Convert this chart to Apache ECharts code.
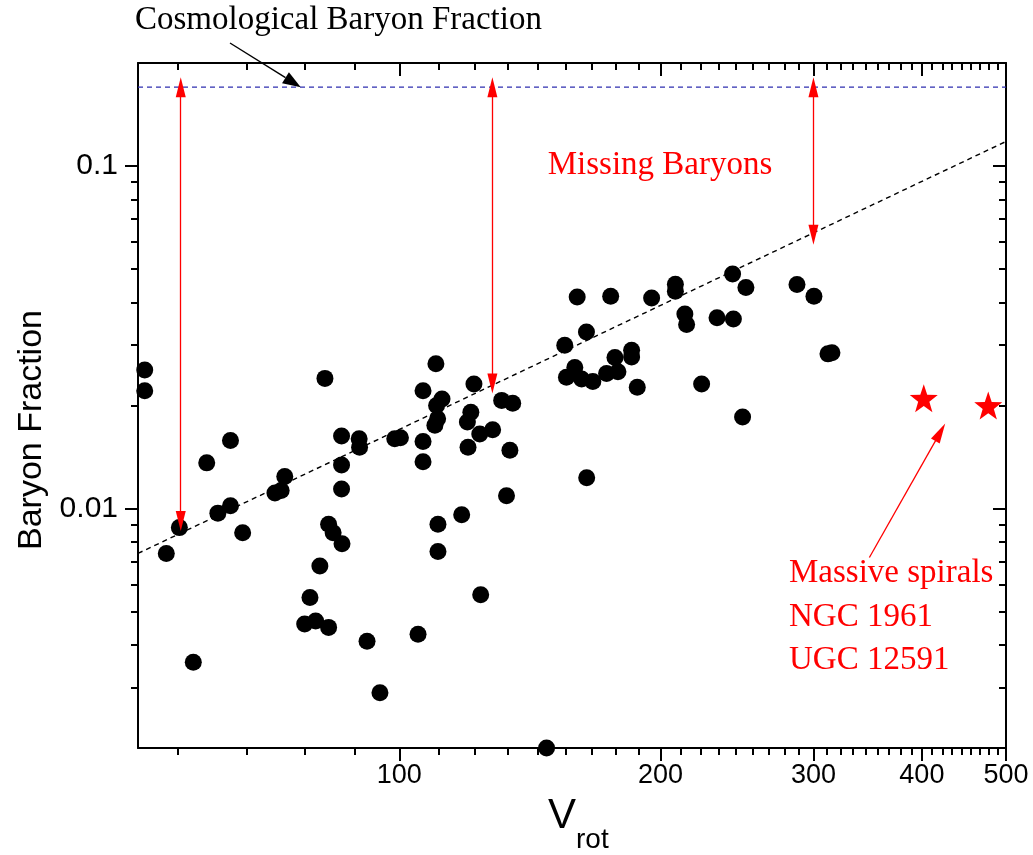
<!DOCTYPE html>
<html>
<head>
<meta charset="utf-8">
<script src="https://cdn.jsdelivr.net/npm/echarts@6/dist/echarts.min.js"></script>
<style>
  html, body { margin: 0; padding: 0; background: #ffffff; }
  #chart { width: 1033px; height: 855px; }
</style>
</head>
<body>
<div id="chart"></div>
<script>
// Rotation velocity (km/s) of each galaxy
const vrot = [
  50.9, 50.9, 55.8, 53.9, 57.9, 60.0, 63.9, 61.8, 63.9, 66.0,
  71.9, 73.1, 73.8, 82.1, 85.8, 89.9, 90.0, 85.8, 85.8, 82.9,
  83.9, 85.9, 81.0, 78.9, 77.8, 80.1, 82.9, 91.8, 95.0, 98.8,
  100.3, 105.1, 106.5, 106.5, 106.5, 110.2, 112.0, 110.4, 110.7, 109.9,
  110.8, 110.8, 118.0, 121.9, 120.9, 119.8, 123.8, 128.1, 120.0, 124.1,
  131.2, 135.1, 134.1, 132.9, 147.8, 155.1, 164.3, 159.3, 155.8, 162.2,
  167.1, 173.3, 178.6, 177.2, 185.2, 185.2, 188.0, 223.0, 164.4, 160.3,
  175.2, 195.3, 208.0, 208.0, 242.1, 250.8, 287.2, 300.4, 213.3, 214.3,
  232.3, 242.6, 248.6, 311.8, 315.1
];
// Baryon fraction of each galaxy (same order as vrot)
const baryonFraction = [
  0.0254, 0.0221, 0.0088, 0.0074, 0.00356, 0.0136, 0.0158, 0.0097, 0.0102, 0.0085,
  0.0111, 0.0113, 0.0124, 0.0240, 0.0163, 0.0160, 0.0151, 0.0134, 0.0114, 0.0090,
  0.0085, 0.0079, 0.0068, 0.0055, 0.0046, 0.0047, 0.0045, 0.0041, 0.0029, 0.0160,
  0.0161, 0.0043, 0.0221, 0.0157, 0.0137, 0.0265, 0.0209, 0.0200, 0.0183, 0.0175,
  0.0090, 0.0075, 0.0096, 0.0231, 0.0191, 0.0179, 0.0165, 0.0170, 0.0151, 0.0056,
  0.0207, 0.0203, 0.0148, 0.0109, 0.0020, 0.0300, 0.0328, 0.0258, 0.0242, 0.0239,
  0.0235, 0.0248, 0.0251, 0.0276, 0.0290, 0.0277, 0.0226, 0.0231, 0.0123, 0.0415,
  0.0417, 0.0412, 0.0452, 0.0431, 0.0484, 0.0442, 0.0451, 0.0417, 0.0370, 0.0345,
  0.0361, 0.0358, 0.0185, 0.0283, 0.0285
];
// Massive spirals NGC 1961 and UGC 12591
const spiralV = [402, 477];
const spiralF = [0.021, 0.020];
// Power-law fit end points
const fitV = [50, 500];
const fitF = [0.0074, 0.118];
// Cosmic baryon fraction
const cosmicFraction = 0.17;
// Gap arrows between the fit and the cosmic value
const gapV = [56, 128, 300];
const gapLow = [0.0092, 0.0232, 0.063];
// Pointer to the spirals (tail, head)
const spiralPointerV = [348, 420];
const spiralPointerF = [0.0072, 0.0167];
// Axis ranges and ticks
const xRange = [50, 500];
const yRange = [0.002, 0.2];
const xMajorTicks = [100, 200, 300, 400, 500];
const yMajorTicks = [0.01, 0.1];
const yMinorTicks = [0.003, 0.004, 0.005, 0.006, 0.007, 0.008, 0.009,
                     0.02, 0.03, 0.04, 0.05, 0.06, 0.07, 0.08, 0.09];

const lg = Math.log10;
// minor ticks: eight between consecutive hundreds
const xMinorTicks = [];
for (let h = 0; h < 500; h += 100) {
  for (let k = 1; k < 9; k++) {
    const v = h + k * 100 / 9;
    if (v > xRange[0] && v < xRange[1]) xMinorTicks.push(v);
  }
}

const SANS = "'Liberation Sans', Arial, sans-serif";
const SERIF = "'Liberation Serif', 'Times New Roman', serif";
const RED = '#ff0000';

const gridBox = { left: 138, right: 27, top: 63, bottom: 107, containLabel: false };

function xAxisDef(gridIndex, position, ticks, len, inside, withLabels, showLine) {
  return {
    type: 'value', gridIndex, position,
    min: lg(xRange[0]), max: lg(xRange[1]),
    axisLine: { show: showLine, onZero: false, lineStyle: { color: '#000', width: 2 } },
    axisTick: { show: true, inside, length: len, customValues: ticks.map(lg),
                lineStyle: { color: '#000', width: 2 } },
    axisLabel: withLabels ? {
      show: true, customValues: ticks.map(lg), margin: 14,
      color: '#000', fontSize: 27, fontFamily: SANS,
      formatter: v => String(Math.round(Math.pow(10, v)))
    } : { show: false },
    splitLine: { show: false }
  };
}
function yAxisDef(gridIndex, position, ticks, len, inside, withLabels, showLine) {
  return {
    type: 'value', gridIndex, position,
    min: lg(yRange[0]), max: lg(yRange[1]),
    axisLine: { show: showLine, onZero: false, lineStyle: { color: '#000', width: 2 } },
    axisTick: { show: true, inside, length: len, customValues: ticks.map(lg),
                lineStyle: { color: '#000', width: 2 } },
    axisLabel: withLabels ? {
      show: true, customValues: ticks.map(lg), margin: 20,
      color: '#000', fontSize: 30, fontFamily: SANS,
      formatter: v => String(+Math.pow(10, v).toPrecision(2))
    } : { show: false },
    splitLine: { show: false }
  };
}

const galaxyData = vrot.map((v, i) => [lg(v), lg(baryonFraction[i])]);
const spiralData = spiralV.map((v, i) => [lg(v), lg(spiralF[i])]);
const fitData = fitV.map((v, i) => [lg(v), lg(fitF[i])]);
const cosmicData = xRange.map(v => [lg(v), lg(cosmicFraction)]);
const gapLines = gapV.map((v, i) => [
  { coord: [lg(v), lg(cosmicFraction)] },
  { coord: [lg(v), lg(gapLow[i])] }
]);
const spiralPointer = [[
  { coord: [lg(spiralPointerV[0]), lg(spiralPointerF[0])] },
  { coord: [lg(spiralPointerV[1]), lg(spiralPointerF[1])] }
]];

const STAR = 'path://M0,-10L2.35,-3.24L9.51,-3.09L3.8,1.24L5.88,8.09L0,4L-5.88,8.09L-3.8,1.24L-9.51,-3.09L-2.35,-3.24Z';

const chart = echarts.init(document.getElementById('chart'), null, { renderer: 'canvas' });

chart.setOption({
  animation: false,
  backgroundColor: '#ffffff',
  grid: [gridBox, Object.assign({}, gridBox)],
  xAxis: [
    xAxisDef(0, 'bottom', xMajorTicks, 13, false, true, true),
    xAxisDef(0, 'top', xMajorTicks, 13, true, false, true),
    xAxisDef(1, 'bottom', xMinorTicks, 7, false, false, false),
    xAxisDef(1, 'top', xMinorTicks, 7, true, false, false)
  ],
  yAxis: [
    yAxisDef(0, 'left', yMajorTicks, 13, false, true, true),
    yAxisDef(0, 'right', yMajorTicks, 13, true, false, true),
    yAxisDef(1, 'left', yMinorTicks, 7, false, false, false),
    yAxisDef(1, 'right', yMinorTicks, 7, true, false, false)
  ],
  series: [
    {
      name: 'cosmic', type: 'line', xAxisIndex: 0, yAxisIndex: 0,
      data: cosmicData, showSymbol: false, silent: true, z: 1,
      lineStyle: { color: '#2f2fb0', width: 1.2, type: [5, 4] }
    },
    {
      name: 'fit', type: 'line', xAxisIndex: 0, yAxisIndex: 0,
      data: fitData, showSymbol: false, silent: true, z: 1,
      lineStyle: { color: '#000', width: 1.4, type: [5, 4] }
    },
    {
      name: 'galaxies', type: 'scatter', xAxisIndex: 0, yAxisIndex: 0,
      data: galaxyData, symbol: 'circle', symbolSize: 17, z: 3,
      itemStyle: { color: '#000', opacity: 1 }
    },
    {
      name: 'spirals', type: 'scatter', xAxisIndex: 0, yAxisIndex: 0,
      data: spiralData, symbol: STAR, symbolSize: 28, z: 3,
      itemStyle: { color: RED, opacity: 1 }
    },
    {
      name: 'gaps', type: 'line', xAxisIndex: 0, yAxisIndex: 0, data: [], z: 4,
      markLine: {
        silent: true, animation: false,
        symbol: ['triangle', 'triangle'], symbolSize: [10, 20],
        label: { show: false },
        lineStyle: { color: RED, width: 1.3, type: 'solid' },
        emphasis: { disabled: true },
        data: gapLines
      }
    },
    {
      name: 'pointer', type: 'line', xAxisIndex: 0, yAxisIndex: 0, data: [], z: 4,
      markLine: {
        silent: true, animation: false,
        symbol: ['none', 'triangle'], symbolSize: [10, 20],
        label: { show: false },
        lineStyle: { color: RED, width: 1.3, type: 'solid' },
        emphasis: { disabled: true },
        data: spiralPointer
      }
    }
  ]
});

// Text annotations and the pointer to the cosmic line
const tip = chart.convertToPixel({ gridIndex: 0 }, [lg(77), lg(cosmicFraction)]);
const tail = [230, 43];
const dx = tip[0] - tail[0], dy = tip[1] - tail[1];
const dl = Math.hypot(dx, dy), ux = dx / dl, uy = dy / dl;
const headLen = 18, headHalf = 6.5;
const base = [tip[0] - ux * headLen, tip[1] - uy * headLen];

chart.setOption({
  graphic: [
    {
      type: 'text', left: 135, top: 4,
      style: { text: 'Cosmological Baryon Fraction', font: '33px ' + SERIF, fill: '#000' }
    },
    {
      type: 'line', silent: true,
      shape: { x1: tail[0], y1: tail[1], x2: base[0], y2: base[1] },
      style: { stroke: '#000', lineWidth: 1.4 }
    },
    {
      type: 'polygon', silent: true,
      shape: { points: [
        tip,
        [base[0] - uy * headHalf, base[1] + ux * headHalf],
        [base[0] + uy * headHalf, base[1] - ux * headHalf]
      ] },
      style: { fill: '#000' }
    },
    {
      type: 'text', x: 660, y: 165,
      style: { text: 'Missing Baryons', font: '33px ' + SERIF, fill: RED,
               align: 'center', verticalAlign: 'middle' }
    },
    {
      type: 'text', x: 789, y: 573,
      style: { text: 'Massive spirals', font: '33px ' + SERIF, fill: RED, verticalAlign: 'middle' }
    },
    {
      type: 'text', x: 789, y: 617,
      style: { text: 'NGC 1961', font: '33px ' + SERIF, fill: RED, verticalAlign: 'middle' }
    },
    {
      type: 'text', x: 789, y: 660,
      style: { text: 'UGC 12591', font: '33px ' + SERIF, fill: RED, verticalAlign: 'middle' }
    },
    {
      type: 'text', x: 32, y: 430, rotation: Math.PI / 2,
      style: { text: 'Baryon Fraction', font: '34px ' + SANS, fill: '#000',
               align: 'center', verticalAlign: 'middle' }
    },
    {
      type: 'text', x: 562, y: 816,
      style: { text: 'V', font: '42px ' + SANS, fill: '#000', align: 'center', verticalAlign: 'middle' }
    },
    {
      type: 'text', x: 576, y: 840,
      style: { text: 'rot', font: '28px ' + SANS, fill: '#000', verticalAlign: 'middle' }
    }
  ]
});
</script>
</body>
</html>
